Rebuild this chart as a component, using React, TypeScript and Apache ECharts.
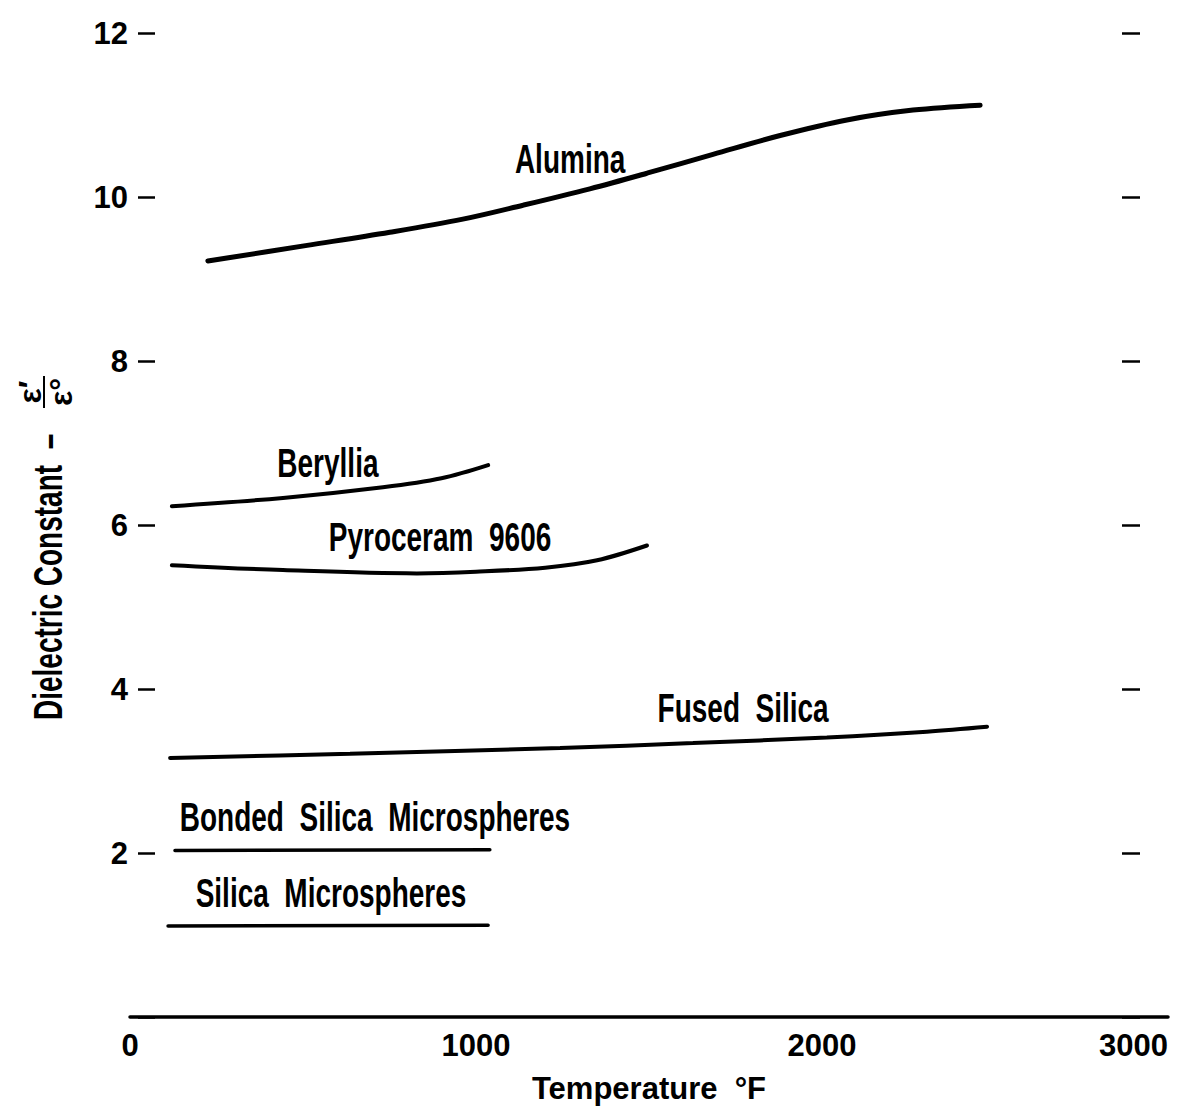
import React, { useEffect, useRef } from "react";
import * as echarts from "echarts";

// Axis ticks
const xTicks = [0, 1000, 2000, 3000];
const yTicks = [0, 2, 4, 6, 8, 10, 12];

// Curves (Temperature °F, dielectric constant)
const aluminaX = [225, 512, 751, 962, 1136, 1329, 1494, 1685, 1879, 2072, 2263, 2457];
const aluminaY = [9.22, 9.41, 9.57, 9.73, 9.9, 10.1, 10.29, 10.52, 10.75, 10.94, 11.06, 11.12];

const berylliaX = [121, 442, 731, 900, 1035];
const berylliaY = [6.23, 6.33, 6.46, 6.57, 6.73];

const pyroceramX = [121, 442, 829, 1000, 1200, 1350, 1494];
const pyroceramY = [5.51, 5.45, 5.41, 5.43, 5.48, 5.57, 5.75];

const fusedSilicaX = [116, 636, 1243, 1627, 2014, 2303, 2477];
const fusedSilicaY = [3.16, 3.21, 3.28, 3.34, 3.41, 3.48, 3.54];

const bondedSilicaX = [130, 1040];
const bondedSilicaY = [2.03, 2.04];

const silicaMicroX = [110, 1035];
const silicaMicroY = [1.11, 1.12];

// Curve annotations
const labelNames = [
  "Alumina",
  "Beryllia",
  "Pyroceram  9606",
  "Fused  Silica",
  "Bonded  Silica  Microspheres",
  "Silica  Microspheres",
];
const labelX = [1272, 572, 896, 1772, 708, 581];
const labelY = [10.46, 6.76, 5.85, 3.77, 2.44, 1.51];

const FONT = "'Liberation Sans', Arial, sans-serif";

const zip = (xs: number[], ys: number[]) => xs.map((x, i) => [x, ys[i]]);

export default function App() {
  const ref = useRef<HTMLDivElement>(null);

  useEffect(() => {
    if (!ref.current) return;
    const chart = echarts.init(ref.current, undefined, { renderer: "svg" });

    const curve = (name: string, xs: number[], ys: number[], width: number) => ({
      name,
      type: "line",
      data: zip(xs, ys),
      smooth: 0.35,
      showSymbol: false,
      symbol: "none",
      yAxisIndex: 0,
      lineStyle: { color: "#000", width, cap: "round" },
      silent: true,
      z: 3,
    });

    const condensedText = (text: string, size: number) => ({
      text,
      fill: "#000",
      fontFamily: FONT,
      fontWeight: "bold",
      fontSize: size,
      align: "center",
      verticalAlign: "middle",
    });

    const option = {
      animation: false,
      backgroundColor: "#ffffff",
      grid: { left: 130, right: 14, top: 33, bottom: 96, containLabel: false },
      xAxis: {
        type: "value",
        min: xTicks[0],
        max: xTicks[xTicks.length - 1],
        interval: 1000,
        axisLine: { show: true, lineStyle: { color: "#000", width: 3.5 } },
        axisTick: { show: false },
        splitLine: { show: false },
        axisLabel: {
          color: "#000",
          fontFamily: FONT,
          fontWeight: "bold",
          fontSize: 31,
          margin: 13,
          alignMaxLabel: "right",
          formatter: (v: number) => String(v),
        },
        name: "Temperature  °F",
        nameLocation: "middle",
        nameGap: 56,
        nameTextStyle: { color: "#000", fontFamily: FONT, fontWeight: "bold", fontSize: 31 },
      },
      yAxis: [
        {
          type: "value",
          position: "left",
          offset: -8,
          min: yTicks[0],
          max: yTicks[yTicks.length - 1],
          interval: 2,
          axisLine: { show: false },
          axisTick: { show: true, inside: true, length: 17, lineStyle: { color: "#000", width: 2.5 } },
          splitLine: { show: false },
          axisLabel: {
            color: "#000",
            fontFamily: FONT,
            fontWeight: "bold",
            fontSize: 31,
            margin: 10,
            formatter: (v: number) => (v === 0 ? "" : String(v)),
          },
        },
        {
          type: "value",
          position: "right",
          offset: -28,
          min: yTicks[0],
          max: yTicks[yTicks.length - 1],
          interval: 2,
          axisLine: { show: false },
          axisTick: { show: true, inside: true, length: 18, lineStyle: { color: "#000", width: 2.5 } },
          splitLine: { show: false },
          axisLabel: { show: false },
        },
      ],
      series: [
        curve("Alumina", aluminaX, aluminaY, 5),
        curve("Beryllia", berylliaX, berylliaY, 4),
        curve("Pyroceram 9606", pyroceramX, pyroceramY, 4),
        curve("Fused Silica", fusedSilicaX, fusedSilicaY, 4),
        curve("Bonded Silica Microspheres", bondedSilicaX, bondedSilicaY, 3.5),
        curve("Silica Microspheres", silicaMicroX, silicaMicroY, 3.5),
        {
          name: "labels",
          type: "custom",
          yAxisIndex: 0,
          silent: true,
          z: 4,
          data: labelNames.map((_, i) => [labelX[i], labelY[i], i]),
          renderItem: (_params: any, api: any) => {
            const p = api.coord([api.value(0), api.value(1)]);
            const i = api.value(2);
            return {
              type: "text",
              x: p[0],
              y: p[1],
              scaleX: 0.7,
              style: condensedText(labelNames[i], 40),
            };
          },
        },
      ],
      graphic: [
        {
          type: "group",
          x: 48,
          y: 720,
          rotation: Math.PI / 2,
          children: [
            {
              type: "text",
              x: 0,
              y: 0,
              scaleX: 0.7,
              style: { ...condensedText("Dielectric Constant  –", 40), align: "left" },
            },
            {
              type: "text",
              x: 328,
              y: -18,
              style: condensedText("ε′", 32),
            },
            {
              type: "line",
              shape: { x1: 312, y1: -4, x2: 344, y2: -4 },
              style: { stroke: "#000", lineWidth: 2 },
            },
            {
              type: "text",
              x: 328,
              y: 13,
              style: condensedText("ε°", 32),
            },
          ],
        },
      ],
    };

    chart.setOption(option as any);
    return () => chart.dispose();
  }, []);

  return (
    <div
      ref={ref}
      style={{ position: "absolute", left: 0, top: 0, width: 1182, height: 1113, background: "#fff" }}
    />
  );
}
